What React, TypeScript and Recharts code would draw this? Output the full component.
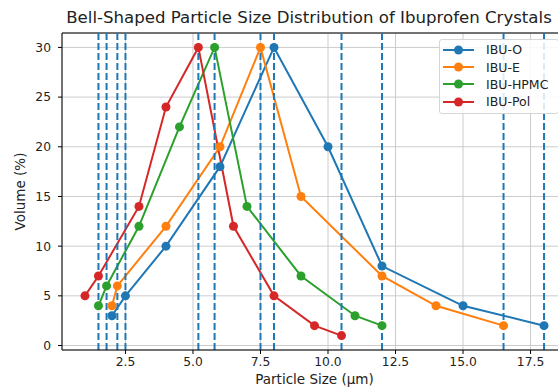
import { LineChart, Line, XAxis, YAxis, CartesianGrid, Legend, ReferenceLine, Label } from "recharts";

// particle size (µm) and volume (%) per formulation
const oSize = [2, 2.5, 4, 6, 8, 10, 12, 15, 18];
const oVol = [3, 5, 10, 18, 30, 20, 8, 4, 2];
const eSize = [2, 2.2, 4, 6, 7.5, 9, 12, 14, 16.5];
const eVol = [4, 6, 12, 20, 30, 15, 7, 4, 2];
const hpmcSize = [1.5, 1.8, 3, 4.5, 5.8, 7, 9, 11, 12];
const hpmcVol = [4, 6, 12, 22, 30, 14, 7, 3, 2];
const polSize = [1, 1.5, 3, 4, 5.2, 6.5, 8, 9.5, 10.5];
const polVol = [5, 7, 14, 24, 30, 12, 5, 2, 1];

// D10 / D50 / D90 markers
const dLines = [1.5, 1.8, 2.2, 2.5, 5.2, 5.8, 7.5, 8, 10.5, 12, 16.5, 18];

const xTicks = [2.5, 5, 7.5, 10, 12.5, 15, 17.5];
const yTicks = [0, 5, 10, 15, 20, 25, 30];

const FONT = "DejaVu Sans, sans-serif";

const toPoints = (xs: number[], ys: number[]) => xs.map((x, i) => ({ x, y: ys[i] }));

const series = [
  { name: "IBU-O", color: "#1f77b4", data: toPoints(oSize, oVol) },
  { name: "IBU-E", color: "#ff7f0e", data: toPoints(eSize, eVol) },
  { name: "IBU-HPMC", color: "#2ca02c", data: toPoints(hpmcSize, hpmcVol) },
  { name: "IBU-Pol", color: "#d62728", data: toPoints(polSize, polVol) },
];

function LegendBox() {
  return (
    <div
      style={{
        border: "1px solid #d6d6d6",
        borderRadius: 3,
        background: "rgba(255,255,255,0.85)",
        paddingTop: 1,
        paddingBottom: 2,
        fontFamily: FONT,
        fontSize: 12.5,
        color: "#222",
      }}
    >
      {series.map((s) => (
        <div key={s.name} style={{ height: 17.4, display: "flex", alignItems: "center" }}>
          <svg width={46} height={12} style={{ flexShrink: 0 }}>
            <line x1={3} y1={6} x2={34} y2={6} stroke={s.color} strokeWidth={2} />
            <circle cx={18.5} cy={6} r={4.5} fill={s.color} />
          </svg>
          <span>{s.name}</span>
        </div>
      ))}
    </div>
  );
}

export default function App() {
  return (
    <div style={{ position: "fixed", left: 0, top: 0, width: 558, height: 387, overflow: "hidden", background: "#fff" }}>
      <div
        style={{
          position: "absolute",
          left: 0,
          top: 8,
          width: 618,
          textAlign: "center",
          fontFamily: FONT,
          fontSize: 16.6,
          color: "#222",
          whiteSpace: "nowrap",
        }}
      >
        Bell-Shaped Particle Size Distribution of Ibuprofen Crystals
      </div>
      <LineChart width={580} height={387} margin={{ top: 33, right: 13, bottom: 0, left: 0 }}>
        <CartesianGrid stroke="#cccccc" strokeWidth={1} />
        <XAxis
          dataKey="x"
          type="number"
          domain={[0.15, 18.85]}
          ticks={xTicks}
          tickFormatter={(v: number) => v.toFixed(1)}
          height={37}
          tickSize={4}
          tickMargin={3}
          stroke="#000"
          allowDuplicatedCategory={false}
          tick={{ fill: "#222", fontFamily: FONT, fontSize: 12.3 }}
        >
          <Label value="Particle Size (µm)" position="insideBottom" offset={3} fill="#222" fontFamily={FONT} fontSize={13.5} />
        </XAxis>
        <YAxis
          type="number"
          domain={[-0.45, 31.45]}
          ticks={yTicks}
          width={62}
          tickSize={4}
          tickMargin={7}
          stroke="#000"
          tick={{ fill: "#222", fontFamily: FONT, fontSize: 12.3 }}
        >
          <Label value="Volume (%)" angle={-90} position="insideLeft" offset={20} fill="#222" fontFamily={FONT} fontSize={13.5} style={{ textAnchor: "middle" }} />
        </YAxis>
        <ReferenceLine y={31.45} stroke="#000" strokeWidth={1} />
        {series.map((s) => (
          <Line
            key={s.name}
            data={s.data}
            dataKey="y"
            name={s.name}
            type="linear"
            stroke={s.color}
            strokeWidth={2}
            dot={{ r: 4.5, fill: s.color, stroke: s.color, strokeWidth: 0 }}
            activeDot={false}
            isAnimationActive={false}
          />
        ))}
        {dLines.map((v) => (
          <ReferenceLine key={v} x={v} stroke="#1f77b4" strokeWidth={2} strokeDasharray="7 3" />
        ))}
        <Legend
          layout="vertical"
          align="center"
          verticalAlign="middle"
          content={() => <LegendBox />}
          wrapperStyle={{ left: 439, top: 39, width: 120 }}
        />
      </LineChart>
    </div>
  );
}
